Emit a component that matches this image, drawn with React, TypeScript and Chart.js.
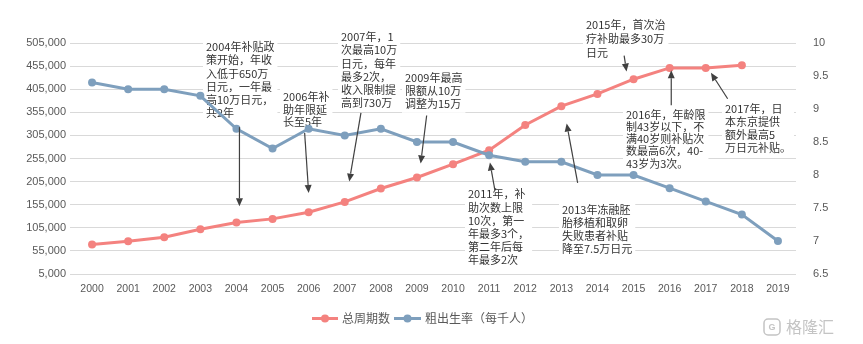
import React, { useEffect, useRef } from 'react';
import { Chart, registerables } from 'chart.js';

Chart.register(...registerables);

// ---------- data ----------
const years = ['2000', '2001', '2002', '2003', '2004', '2005', '2006', '2007', '2008', '2009', '2010', '2011', '2012', '2013', '2014', '2015', '2016', '2017', '2018', '2019'];
const totalCycles = [68900, 76000, 84700, 102000, 116500, 124300, 138800, 161100, 190100, 213900, 242700, 273000, 327700, 368200, 394800, 426600, 451100, 451100, 457000, null];
const birthRate = [9.4, 9.3, 9.3, 9.2, 8.7, 8.4, 8.7, 8.6, 8.7, 8.5, 8.5, 8.3, 8.2, 8.2, 8.0, 8.0, 7.8, 7.6, 7.4, 7.0];
const seriesNames = ['总周期数', '粗出生率（每千人）'];
const leftMin = 5000;
const leftMax = 505000;
const leftStep = 50000;
const rightMin = 6.5;
const rightMax = 10;
const rightStep = 0.5;

const noteTexts = [
  ['2004年补贴政', '策开始，年收', '入低于650万', '日元，一年最', '高10万日元，', '共2年'],
  ['2006年补', '助年限延', '长至5年'],
  ['2007年，1', '次最高10万', '日元，每年', '最多2次，', '收入限制提', '高到730万'],
  ['2009年最高', '限额从10万', '调整为15万'],
  ['2011年，补', '助次数上限', '10次，第一', '年最多3个，', '第二年后每', '年最多2次'],
  ['2013年冻融胚', '胎移植和取卵', '失败患者补贴', '降至7.5万日元'],
  ['2015年，首次治', '疗补助最多30万', '日元'],
  ['2016年，年龄限', '制43岁以下，不', '满40岁则补贴次', '数最高6次，40-', '43岁为3次。'],
  ['2017年，日', '本东京提供', '额外最高5', '万日元补贴。'],
];
// arrow tips anchored to (category index, left-axis value)
const noteTipIndex = [4, 6, 7, 9, 11, 13, 15, 16, 17];
const noteTipValue = [151800, 180500, 205000, 244200, 246300, 330700, 443200, 446100, 440500];

// ---------- layout (pixels) ----------
const noteLayout = [
  { x: 206, y: 47, lh: 13.2, tdx: 3, ax: 0, ay: -79 },
  { x: 283, y: 97, lh: 12.6, tdx: 0, ax: -4, ay: -60 },
  { x: 341, y: 37, lh: 13.2, tdx: 4.5, ax: 11.7, ay: -68.7 },
  { x: 405, y: 78.3, lh: 13, tdx: 3.7, ax: 6, ay: -48 },
  { x: 468, y: 194.3, lh: 13.1, tdx: 0.8, ax: 5, ay: 28 },
  { x: 562, y: 210, lh: 12.8, tdx: 5.3, ax: 11, ay: 59.4 },
  { x: 586, y: 25, lh: 13.8, tdx: -7, ax: -2.4, ay: -16 },
  { x: 626, y: 115, lh: 12.1, tdx: 1.6, ax: 0, ay: 35 },
  { x: 725, y: 109.3, lh: 13, tdx: 5.2, ax: 16.7, ay: 26 },
];

const RED = '#F4827F';
const BLUE = '#7E9FBD';
const TICK_COLOR = '#595959';
const NOTE_FONT = '11px "Noto Sans CJK SC", "Noto Sans", sans-serif';

const notesPlugin = {
  id: 'notes',
  beforeDatasetsDraw(chart: any) {
    const ctx = chart.ctx;
    ctx.save();
    ctx.font = NOTE_FONT;
    ctx.textBaseline = 'middle';
    ctx.textAlign = 'left';
    noteTexts.forEach((lines, k) => {
      const L = noteLayout[k];
      let w = 0;
      lines.forEach((s) => { w = Math.max(w, ctx.measureText(s).width); });
      ctx.fillStyle = '#ffffff';
      ctx.fillRect(L.x - 3, L.y - L.lh / 2 - 2, w + 6, lines.length * L.lh + 4);
      ctx.fillStyle = '#333333';
      lines.forEach((s, i) => ctx.fillText(s, L.x, L.y + i * L.lh));
    });
    ctx.restore();
  },
  afterDatasetsDraw(chart: any) {
    const ctx = chart.ctx;
    const xs = chart.scales.x;
    const ys = chart.scales.y;
    ctx.save();
    ctx.strokeStyle = '#404040';
    ctx.fillStyle = '#404040';
    ctx.lineWidth = 1.2;
    noteTipIndex.forEach((idx, k) => {
      const L = noteLayout[k];
      const tx = xs.getPixelForValue(idx) + L.tdx;
      const ty = ys.getPixelForValue(noteTipValue[k]);
      const sx = tx + L.ax;
      const sy = ty + L.ay;
      const ang = Math.atan2(ty - sy, tx - sx);
      const hl = 8;
      const hw = 3.5;
      const bx = tx - hl * Math.cos(ang);
      const by = ty - hl * Math.sin(ang);
      ctx.beginPath();
      ctx.moveTo(sx, sy);
      ctx.lineTo(bx, by);
      ctx.stroke();
      ctx.beginPath();
      ctx.moveTo(tx, ty);
      ctx.lineTo(bx + hw * Math.sin(ang), by - hw * Math.cos(ang));
      ctx.lineTo(bx - hw * Math.sin(ang), by + hw * Math.cos(ang));
      ctx.closePath();
      ctx.fill();
    });
    ctx.restore();
  },
  afterDraw(chart: any) {
    const ctx = chart.ctx;
    ctx.save();
    // legend
    const ly = 318.5;
    const items = [
      { color: RED, name: seriesNames[0], x0: 312, x1: 338, tx: 342 },
      { color: BLUE, name: seriesNames[1], x0: 394, x1: 421, tx: 425 },
    ];
    ctx.font = '12px "Noto Sans CJK SC", sans-serif';
    ctx.textBaseline = 'middle';
    items.forEach((it) => {
      ctx.strokeStyle = it.color;
      ctx.lineWidth = 3;
      ctx.beginPath();
      ctx.moveTo(it.x0, ly);
      ctx.lineTo(it.x1, ly);
      ctx.stroke();
      ctx.fillStyle = it.color;
      ctx.beginPath();
      ctx.arc((it.x0 + it.x1) / 2, ly, 4, 0, Math.PI * 2);
      ctx.fill();
      ctx.fillStyle = TICK_COLOR;
      ctx.fillText(it.name, it.tx, ly);
    });
    // watermark
    ctx.strokeStyle = '#c4c4c4';
    ctx.lineWidth = 1.5;
    ctx.beginPath();
    ctx.roundRect(764, 319, 16, 16, 4);
    ctx.stroke();
    ctx.fillStyle = '#c4c4c4';
    ctx.font = 'bold 9px "Liberation Sans", sans-serif';
    ctx.textAlign = 'center';
    ctx.fillText('G', 772, 327.5);
    ctx.textAlign = 'left';
    ctx.font = '16px "Noto Sans CJK SC", sans-serif';
    ctx.fillText('格隆汇', 786, 327);
    ctx.restore();
  },
};

export default function App() {
  const ref = useRef<HTMLCanvasElement | null>(null);
  useEffect(() => {
    if (!ref.current) return;
    const chart = new Chart(ref.current, {
      type: 'line',
      data: {
        labels: years,
        datasets: [
          {
            label: seriesNames[0],
            data: totalCycles,
            yAxisID: 'y',
            borderColor: RED,
            backgroundColor: RED,
            borderWidth: 3,
            pointRadius: 4,
            pointBackgroundColor: RED,
            pointBorderColor: RED,
            pointBorderWidth: 0,
            tension: 0,
            order: 1,
          },
          {
            label: seriesNames[1],
            data: birthRate,
            yAxisID: 'y1',
            borderColor: BLUE,
            backgroundColor: BLUE,
            borderWidth: 3,
            pointRadius: 4,
            pointBackgroundColor: BLUE,
            pointBorderColor: BLUE,
            pointBorderWidth: 0,
            tension: 0,
            order: 0,
          },
        ],
      },
      options: {
        responsive: false,
        animation: false,
        devicePixelRatio: 1,
        layout: { padding: { top: 43, bottom: 44, left: 0, right: 0 } },
        plugins: { legend: { display: false }, tooltip: { enabled: false } },
        scales: {
          x: {
            type: 'category',
            offset: true,
            grid: { display: false },
            border: { display: false },
            ticks: {
              color: TICK_COLOR,
              font: { family: '"Liberation Sans", sans-serif', size: 10.5 },
              padding: 1,
              autoSkip: false,
              maxRotation: 0,
            },
            afterFit: (s: any) => { s.height = 26; },
          },
          y: {
            position: 'left',
            min: leftMin,
            max: leftMax,
            ticks: {
              stepSize: leftStep,
              color: TICK_COLOR,
              font: { family: '"Liberation Sans", sans-serif', size: 11 },
              padding: 4,
              callback: (v: any) => Number(v).toLocaleString('en-US'),
            },
            grid: { color: '#D9D9D9', lineWidth: 1, tickLength: 4, drawTicks: true },
            border: { display: false },
            afterFit: (s: any) => { s.width = 74; },
          },
          y1: {
            position: 'right',
            min: rightMin,
            max: rightMax,
            ticks: {
              stepSize: rightStep,
              color: TICK_COLOR,
              font: { family: '"Liberation Sans", sans-serif', size: 11 },
              padding: 9,
              callback: (v: any) => String(v),
            },
            grid: { display: false },
            border: { display: false },
            afterFit: (s: any) => { s.width = 67; },
          },
        },
      },
      plugins: [notesPlugin],
    } as any);
    return () => chart.destroy();
  }, []);
  return (
    <div style={{ position: 'absolute', left: 0, top: 0, width: 863, height: 344, background: '#fff' }}>
      <canvas ref={ref} width={863} height={344} style={{ display: 'block' }} />
    </div>
  );
}
